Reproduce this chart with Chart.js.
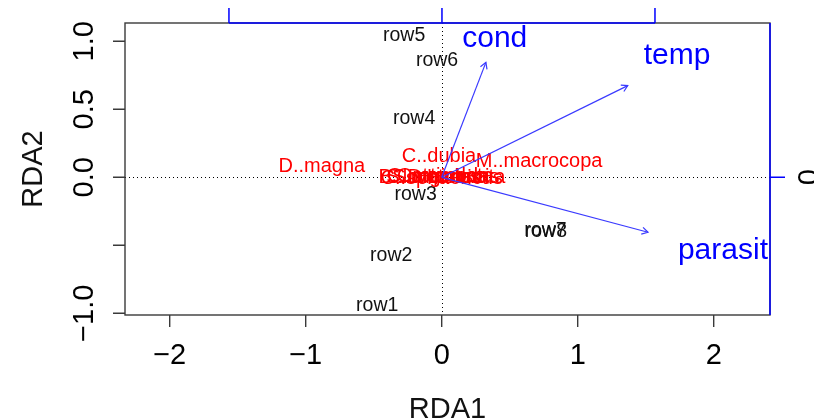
<!DOCTYPE html>
<html>
<head>
<meta charset="utf-8">
<script src="https://cdn.jsdelivr.net/npm/chart.js@4"></script>
<style>
  html, body { margin: 0; padding: 0; background: #fff; }
  canvas { display: block; }
</style>
</head>
<body>
<canvas id="rda" width="814" height="420"></canvas>
<script>
// --- site scores (black) ---
const siteNames = ["row1", "row2", "row3", "row4", "row5", "row6", "row7", "row8"];
const siteX = [-0.474, -0.371, -0.192, -0.203, -0.276, -0.034, 0.763, 0.766];
const siteY = [-0.941, -0.579, -0.125, 0.429, 1.039, 0.857, -0.394, -0.396];

// --- species scores (red) ---
const speciesNames = ["D..magna", "C..dubia", "M..macrocopa", "B..longirostris", "C..reticulata",
  "S..mucronata", "S..vetulus", "D..pulex", "C..sphaericus", "Ostracoda"];
const speciesX = [-0.881, -0.020, 0.716, -0.020, -0.010, 0.030, -0.040, 0.020, 0.000, 0.010];
const speciesY = [0.081, 0.150, 0.114, 0.000, 0.005, 0.000, -0.005, 0.000, -0.010, 0.004];

// --- environmental arrows (blue) ---
const envNames = ["cond", "temp", "parasit"];
const envX = [0.325, 1.368, 1.517];
const envY = [0.845, 0.674, -0.404];
const envLabelX = [0.390, 1.731, 2.068];
const envLabelY = [1.021, 0.893, -0.539];

// --- axes ---
const xTicks = [-2, -1, 0, 1, 2];
const xTickLabels = ["\u22122", "\u22121", "0", "1", "2"];
const yTicks = [-1, -0.5, 0, 0.5, 1];
const yTickLabels = ["\u22121.0", "", "0.0", "0.5", "1.0"];
const topTicks = [-1, 0, 1];
const rightTicks = [0];
const rightTickLabels = ["0"];

const BLUE = "#0000ff";
const FONT = "'Liberation Sans', Arial, sans-serif";

function txt(ctx, s, x, y, size, color, rot, base) {
    ctx.save();
    ctx.translate(x, y);
    if (rot) ctx.rotate(rot);
    ctx.font = size + "px " + FONT;
    ctx.fillStyle = color;
    ctx.textAlign = "center";
    ctx.textBaseline = base || "middle";
    ctx.fillText(s, 0, 0);
    ctx.restore();
}

const biplot = {
    id: "biplot",
    beforeDatasetsDraw(chart) {
        const { ctx, chartArea: a, scales: { x, y } } = chart;
        // dotted zero lines
        ctx.save();
        ctx.strokeStyle = "#000";
        ctx.lineWidth = 1;
        ctx.setLineDash([1, 3]);
        const x0 = Math.round(x.getPixelForValue(0)) + 0.5;
        const y0 = Math.round(y.getPixelForValue(0)) + 0.5;
        ctx.beginPath();
        ctx.moveTo(a.left, y0); ctx.lineTo(a.right, y0);
        ctx.moveTo(x0, a.top); ctx.lineTo(x0, a.bottom);
        ctx.stroke();
        ctx.restore();

        siteNames.forEach((n, i) => {
            txt(ctx, n, x.getPixelForValue(siteX[i]), y.getPixelForValue(siteY[i]), 19.5, "#111");
        });
        speciesNames.forEach((n, i) => {
            txt(ctx, n, x.getPixelForValue(speciesX[i]), y.getPixelForValue(speciesY[i]), 20, "#ff0000");
        });
    },
    afterDatasetsDraw(chart) {
        const { ctx, chartArea: a, scales: { x, y, x2, y2 } } = chart;

        // arrow heads
        ctx.save();
        ctx.strokeStyle = "#3a3aff";
        ctx.lineWidth = 1.2;
        const ox = x.getPixelForValue(0), oy = y.getPixelForValue(0);
        envNames.forEach((n, i) => {
            const tx = x.getPixelForValue(envX[i]), ty = y.getPixelForValue(envY[i]);
            const ang = Math.atan2(ty - oy, tx - ox);
            const len = 7, sp = Math.PI / 6;
            ctx.beginPath();
            ctx.moveTo(tx - len * Math.cos(ang - sp), ty - len * Math.sin(ang - sp));
            ctx.lineTo(tx, ty);
            ctx.lineTo(tx - len * Math.cos(ang + sp), ty - len * Math.sin(ang + sp));
            ctx.stroke();
            txt(ctx, n, x.getPixelForValue(envLabelX[i]), y.getPixelForValue(envLabelY[i]), 30, BLUE);
        });
        ctx.restore();

        // box
        ctx.save();
        ctx.strokeStyle = "#3a3a3a";
        ctx.lineWidth = 1.4;
        ctx.strokeRect(a.left, a.top, a.right - a.left, a.bottom - a.top);

        // bottom axis
        ctx.beginPath();
        xTicks.forEach(v => {
            const px = x.getPixelForValue(v);
            ctx.moveTo(px, a.bottom); ctx.lineTo(px, a.bottom + 12);
        });
        // left axis
        yTicks.forEach(v => {
            const py = y.getPixelForValue(v);
            ctx.moveTo(a.left, py); ctx.lineTo(a.left - 12, py);
        });
        ctx.stroke();
        xTicks.forEach((v, i) => txt(ctx, xTickLabels[i], x.getPixelForValue(v), 364, 29, "#000", 0, "alphabetic"));
        yTicks.forEach((v, i) => {
            if (yTickLabels[i]) txt(ctx, yTickLabels[i], 92.5, y.getPixelForValue(v), 29, "#000", -Math.PI / 2, "alphabetic");
        });

        // top axis (blue)
        ctx.strokeStyle = BLUE;
        ctx.lineWidth = 1.5;
        const t0 = x2.getPixelForValue(topTicks[0]), t1 = x2.getPixelForValue(topTicks[topTicks.length - 1]);
        ctx.beginPath();
        ctx.moveTo(t0, a.top); ctx.lineTo(t1, a.top);
        topTicks.forEach(v => {
            const px = x2.getPixelForValue(v);
            ctx.moveTo(px, a.top); ctx.lineTo(px, a.top - 15);
        });
        // right axis (blue)
        ctx.moveTo(a.right, a.top); ctx.lineTo(a.right, a.bottom);
        rightTicks.forEach(v => {
            const py = y2.getPixelForValue(v);
            ctx.moveTo(a.right, py); ctx.lineTo(a.right + 15, py);
        });
        ctx.stroke();
        rightTicks.forEach((v, i) => txt(ctx, rightTickLabels[i], 818, y2.getPixelForValue(v), 29, "#000", -Math.PI / 2, "alphabetic"));

        // axis titles
        txt(ctx, "RDA1", (a.left + a.right) / 2, 418, 29, "#111", 0, "alphabetic");
        txt(ctx, "RDA2", 41.5, (a.top + a.bottom) / 2, 29, "#111", -Math.PI / 2, "alphabetic");
        ctx.restore();
    }
};

const arrowSets = envNames.map((n, i) => ({
    type: "line",
    label: n,
    data: [{ x: 0, y: 0 }, { x: envX[i], y: envY[i] }],
    borderColor: "#3a3aff",
    borderWidth: 1.2,
    pointRadius: 0,
    fill: false
}));

new Chart(document.getElementById("rda"), {
    type: "scatter",
    data: {
        datasets: [
            { label: "sites", data: siteX.map((v, i) => ({ x: v, y: siteY[i] })), pointRadius: 0 },
            { label: "species", data: speciesX.map((v, i) => ({ x: v, y: speciesY[i] })), pointRadius: 0 },
            ...arrowSets
        ]
    },
    options: {
        responsive: false,
        animation: false,
        devicePixelRatio: 1,
        layout: { padding: { left: 125, right: 44, top: 23, bottom: 105 } },
        plugins: { legend: { display: false }, tooltip: { enabled: false } },
        scales: {
            x: { type: "linear", display: false, min: -2.3287, max: 2.414 },
            y: { type: "linear", display: false, min: -1.0125, max: 1.1346 },
            x2: { type: "linear", axis: "x", display: false, min: -1.488, max: 1.540 },
            y2: { type: "linear", axis: "y", display: false, min: -0.6465, max: 0.7244 }
        }
    },
    plugins: [biplot]
});
</script>
</body>
</html>
